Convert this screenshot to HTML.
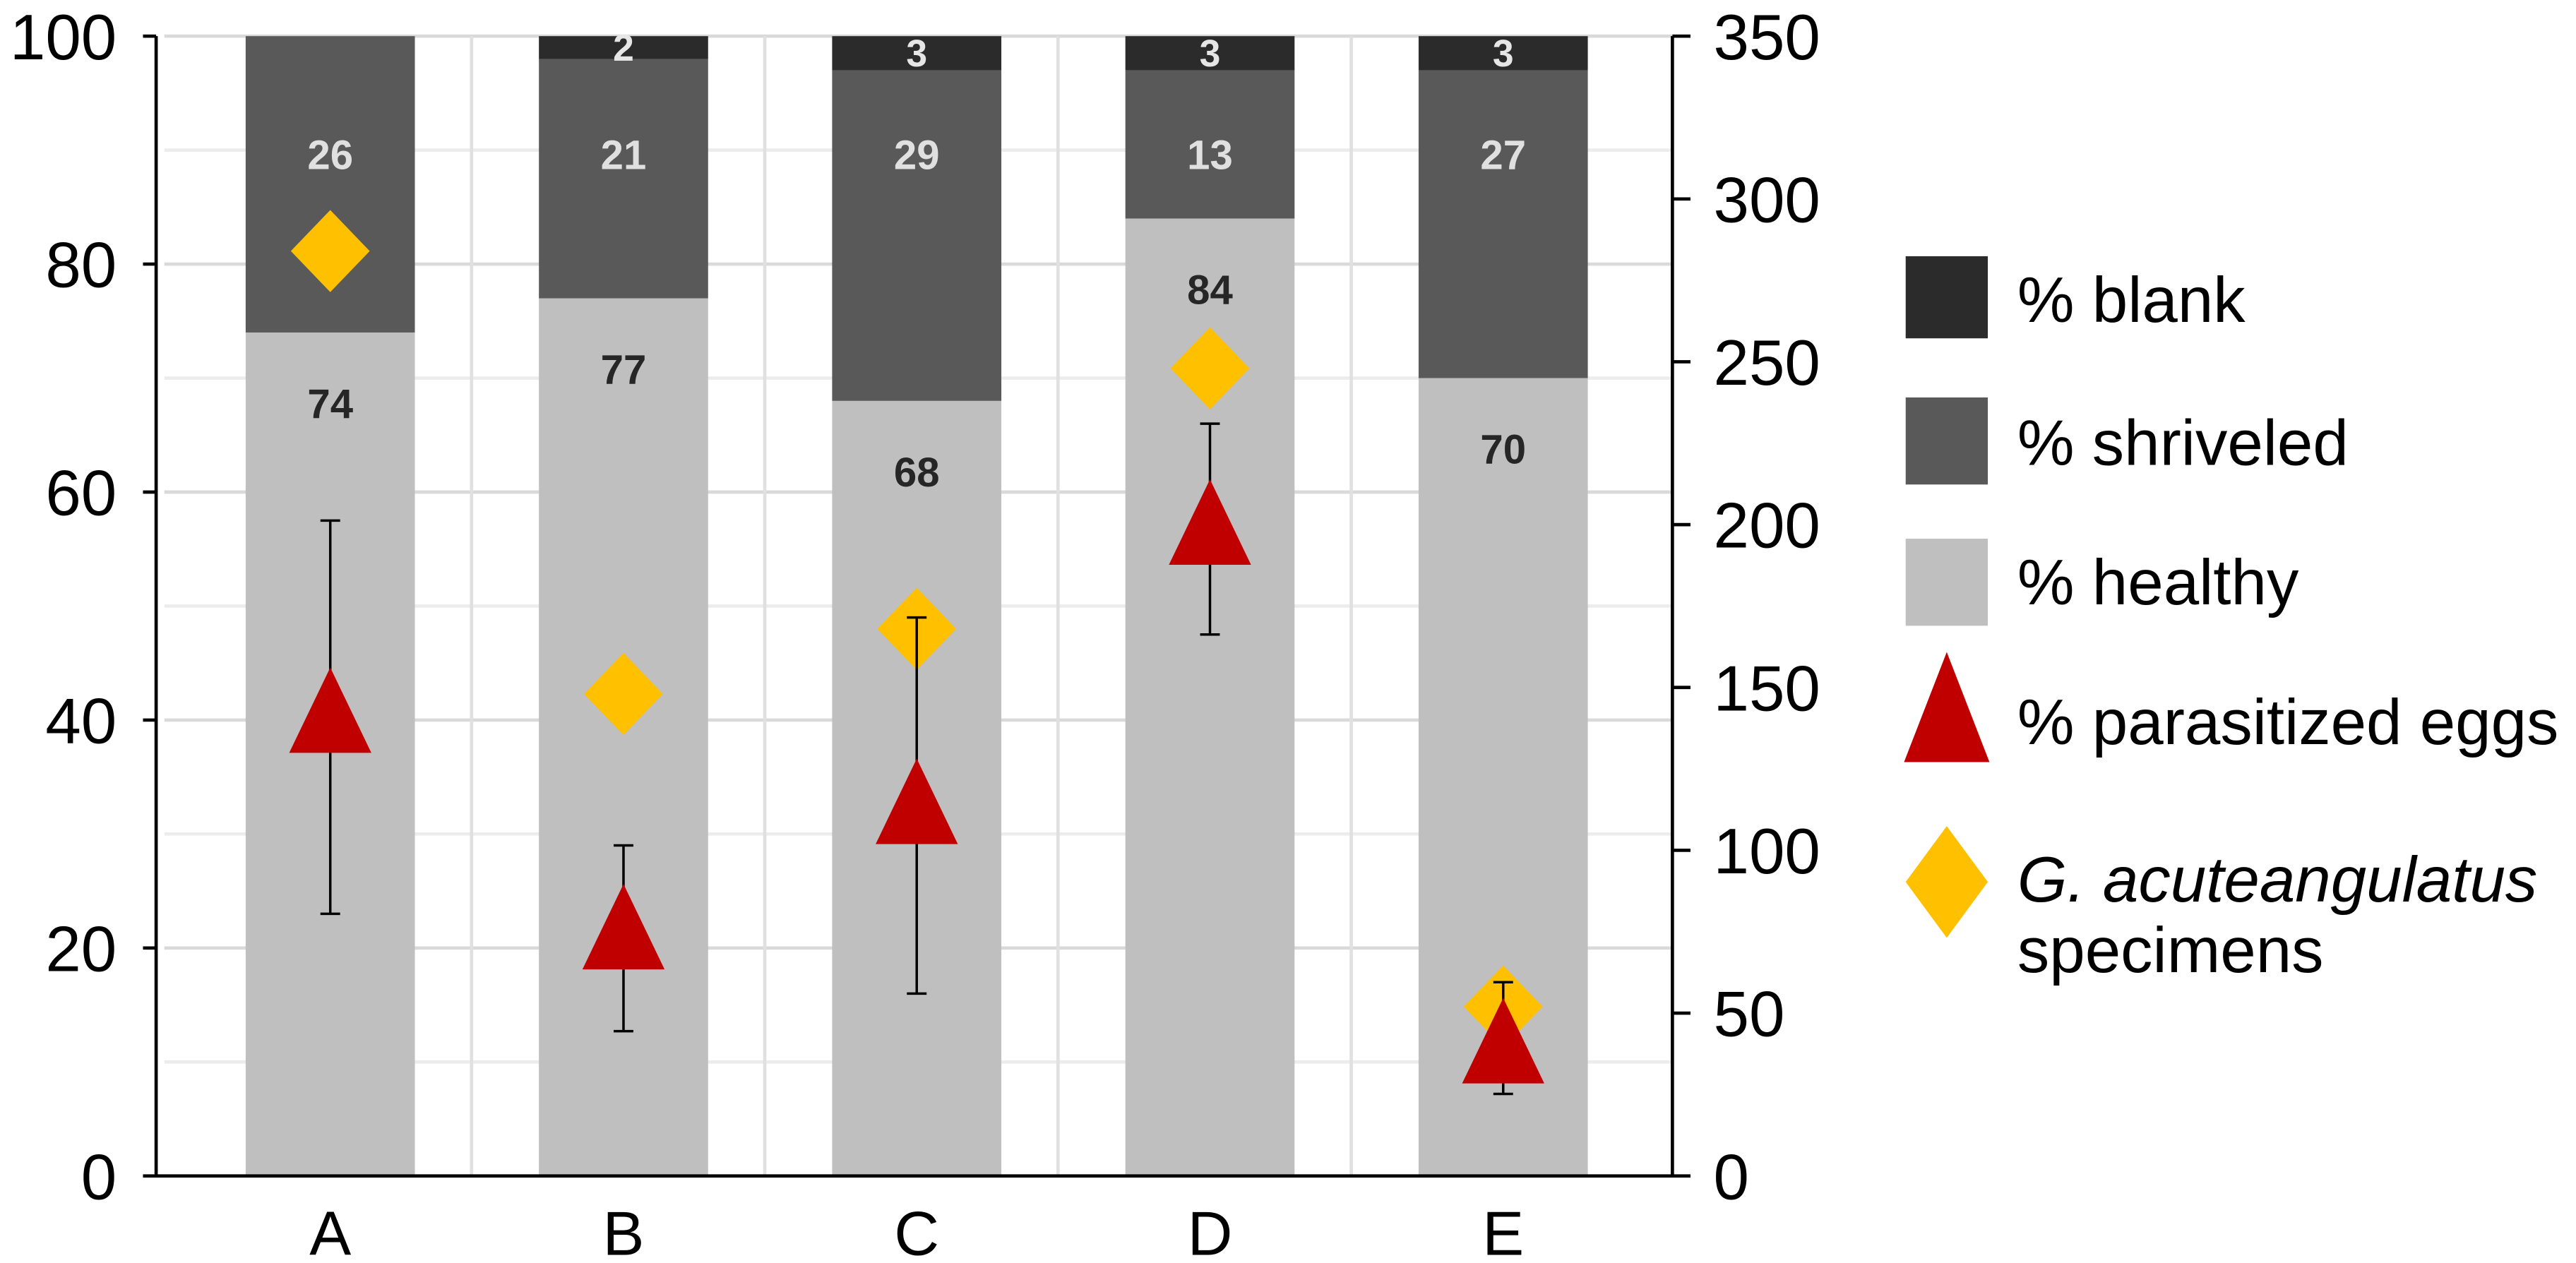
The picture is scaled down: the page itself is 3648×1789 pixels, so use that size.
<!DOCTYPE html>
<html><head><meta charset="utf-8"><style>
html,body{margin:0;padding:0;background:#fff;}
svg{display:block;font-family:"Liberation Sans",Arial,sans-serif;}
</style></head><body>
<svg id="chart" width="3648" height="1789" viewBox="0 0 1568 769" xmlns="http://www.w3.org/2000/svg">
<g id="grid"></g>
<g id="bars"></g>
<g id="marks"></g>
<g id="axes"></g>
<g id="legend">
  <rect x="1160" y="156" width="50" height="50" fill="#2b2b2b"/>
  <text x="1228" y="196" font-size="39">% blank</text>
  <rect x="1160" y="242" width="50" height="53" fill="#595959"/>
  <text x="1228" y="283" font-size="39">% shriveled</text>
  <rect x="1160" y="328" width="50" height="53" fill="#bfbfbf"/>
  <text x="1228" y="368" font-size="39">% healthy</text>
  <polygon points="1185,397 1211,464 1159,464" fill="#c00000"/>
  <text x="1228" y="453" font-size="39">% parasitized eggs</text>
  <polygon points="1185,503 1210,537 1185,571 1160,537" fill="#ffc000"/>
  <text x="1228" y="549" font-size="39"><tspan font-style="italic">G. acuteangulatus</tspan></text>
  <text x="1228" y="592" font-size="39">specimens</text>
</g>
</svg>
<script>
const categories = ["A","B","C","D","E"];
const healthy = [74,77,68,84,70];
const shriveled = [26,21,29,13,27];
const blank = [0,2,3,3,3];
const parasitized = [40,21,32,56.5,11];
const errLow = [23,12.7,16,47.5,7.2];
const errHigh = [57.5,29,49,66,17];
const specimens = [284,148,168,248,52];
const leftTicks = [0,20,40,60,80,100];
const rightTicks = [0,50,100,150,200,250,300,350];

const NS="http://www.w3.org/2000/svg";
const X0=95, X1=1018, YT=22, YB=716;
const yL=v=>YB-(YB-YT)*v/100;
const yR=v=>YB-(YB-YT)*v/350;
const xC=i=>201+178.5*i;
const BW=103;
function mk(parent,tag,attrs,text){const e=document.createElementNS(NS,tag);for(const k in attrs)e.setAttribute(k,attrs[k]);if(text!==undefined)e.textContent=text;parent.appendChild(e);return e;}
const grid=document.getElementById('grid'),bars=document.getElementById('bars'),marks=document.getElementById('marks'),axes=document.getElementById('axes');

for(let v=10;v<=100;v+=10){
  const g=mk(grid,'line',{x1:X0+5,x2:X1,y1:yL(v),y2:yL(v),stroke:v%20===0?'#d9d9d9':'#ececec','stroke-width':2});
  
  
}
for(let i=0;i<categories.length-1;i++){
  const g=mk(grid,'line',{x1:xC(i)+86,x2:xC(i)+86,y1:YT,y2:YB,stroke:'#e0e0e0','stroke-width':2});
  
  
}
categories.forEach((c,i)=>{
  const x=xC(i)-BW/2;
  const hTop=yL(healthy[i]), sTop=yL(healthy[i]+shriveled[i]), bTop=yL(healthy[i]+shriveled[i]+blank[i]);
  const r1=mk(bars,'rect',{x:x,y:hTop,width:BW,height:YB-hTop,fill:'#bfbfbf'});
  
  
  const r2=mk(bars,'rect',{x:x,y:sTop,width:BW,height:hTop-sTop,fill:'#595959'});
  
  
  if(blank[i]>0){
    const r3=mk(bars,'rect',{x:x,y:bTop,width:BW,height:sTop-bTop,fill:'#2b2b2b'});
    
    
    const t3=mk(bars,'text',{x:xC(i),y:(bTop+sTop)/2+8,'text-anchor':'middle','font-size':23,'font-weight':'bold',fill:'#e6e6e6'},blank[i]);
    
    
  }
  const t1=mk(bars,'text',{x:xC(i),y:hTop+52,'text-anchor':'middle','font-size':25,'font-weight':'bold',fill:'#262626'},healthy[i]);
  
  
  const t2=mk(bars,'text',{x:xC(i),y:yL(100)+81,'text-anchor':'middle','font-size':25,'font-weight':'bold',fill:'#e0e0e0'},shriveled[i]);
  
  
  const xl=mk(axes,'text',{x:xC(i),y:764,'text-anchor':'middle','font-size':38},c);
  
  
});
categories.forEach((c,i)=>{
  const cx=xC(i);
  const d=mk(marks,'polygon',{points:`${cx},${yR(specimens[i])-25} ${cx+24},${yR(specimens[i])} ${cx},${yR(specimens[i])+25} ${cx-24},${yR(specimens[i])}`,fill:'#ffc000'});
  
  
  const lo=yL(errLow[i]),hi=yL(errHigh[i]);
  const e=mk(marks,'path',{d:`M${cx},${lo}V${hi}M${cx-6},${lo}H${cx+6}M${cx-6},${hi}H${cx+6}`,stroke:'#000','stroke-width':1.5,fill:'none'});
  
  
  const cy=yL(parasitized[i]);
  const t=mk(marks,'polygon',{points:`${cx},${cy-32} ${cx+25},${cy+20} ${cx-25},${cy+20}`,fill:'#c00000'});
  
  
});
const ax=mk(axes,'path',{d:`M${X0},${YT}V${YB}H${X1}V${YT}`,stroke:'#000','stroke-width':2,fill:'none'});


leftTicks.forEach(v=>{
  const tk=mk(axes,'line',{x1:X0-8,x2:X0,y1:yL(v),y2:yL(v),stroke:'#000','stroke-width':2});
  
  
  const tl=mk(axes,'text',{x:71,y:yL(v)+14,'text-anchor':'end','font-size':39},v);
  
  
});
rightTicks.forEach(v=>{
  const tk=mk(axes,'line',{x1:X1,x2:X1+11,y1:yR(v),y2:yR(v),stroke:'#000','stroke-width':2});
  
  
  const tl=mk(axes,'text',{x:1043,y:yR(v)+14,'text-anchor':'start','font-size':39},v);
  
  
});
</script>
</body></html>
